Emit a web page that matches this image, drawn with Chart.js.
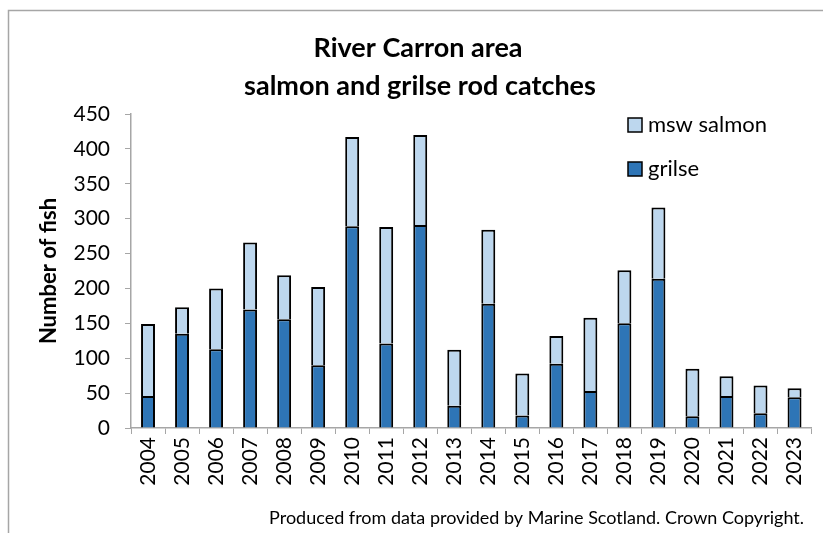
<!DOCTYPE html>
<html><head><meta charset="utf-8">
<script src="https://cdn.jsdelivr.net/npm/chart.js@4/dist/chart.umd.min.js"></script>
<style>html,body{margin:0;padding:0;background:#fff}#wrap{width:823px;height:533px}</style>
</head><body><div id="wrap"><canvas id="c" width="823" height="533"></canvas></div>
<script>
const years = ['2004','2005','2006','2007','2008','2009','2010','2011','2012','2013','2014','2015','2016','2017','2018','2019','2020','2021','2022','2023'];
const grilse = [46,135,113,170,156,90,289,121,291,32,178,18,92,53,150,214,17,46,21,44];
const mswSalmon = [103,38,87,96,63,112,128,167,129,80,106,60,40,105,76,102,68,28,40,13];
const yTickValues = [0,50,100,150,200,250,300,350,400,450];
const titleLines = ['River Carron area','salmon and grilse rod catches'];
const yAxisTitle = 'Number of fish';
const footerText = 'Produced from data provided by Marine Scotland. Crown Copyright.';
const seriesNames = ['grilse','msw salmon'];

const FONT = 'Lato, "Open Sans", "Liberation Sans", sans-serif';
const DARK = '#2E75B6', LIGHT = '#BDD7EE', AXIS = '#a6a6a6';

const decor = {
  id: 'decor',
  afterDraw(chart) {
    const ctx = chart.ctx;
    ctx.save();
    ctx.strokeStyle = AXIS; ctx.lineWidth = 1.5;
    ctx.beginPath(); ctx.moveTo(8.5, 533); ctx.lineTo(8.5, 10.5); ctx.lineTo(823, 10.5); ctx.stroke();
    ctx.fillStyle = '#000'; ctx.textAlign = 'center'; ctx.textBaseline = 'middle';
    ctx.font = 'bold 27px ' + FONT;
    ctx.fillText(titleLines[0], 418, 48);
    ctx.fillText(titleLines[1], 420, 86);
    ctx.font = '18px ' + FONT; ctx.textAlign = 'right';
    ctx.fillText(footerText, 804, 518);
    const items = [{t: seriesNames[1], c: LIGHT, y: 125}, {t: seriesNames[0], c: DARK, y: 169}];
    ctx.textAlign = 'left'; ctx.font = '22px ' + FONT;
    items.forEach(it => {
      ctx.fillStyle = it.c; ctx.fillRect(628, it.y - 7, 14, 14);
      ctx.strokeStyle = '#000'; ctx.lineWidth = 1.5; ctx.strokeRect(628, it.y - 7, 14, 14);
      ctx.fillStyle = '#000'; ctx.fillText(it.t, 648, it.y);
    });
    ctx.restore();
  }
};

new Chart(document.getElementById('c'), {
  type: 'bar',
  data: {
    labels: years,
    datasets: [
      {label: seriesNames[0], data: grilse, backgroundColor: DARK, borderColor: '#000', borderWidth: 2, categoryPercentage: 1, barPercentage: 0.41},
      {label: seriesNames[1], data: mswSalmon, backgroundColor: LIGHT, borderColor: '#000', borderWidth: 2, categoryPercentage: 1, barPercentage: 0.41}
    ]
  },
  options: {
    responsive: false, animation: false,
    layout: {padding: {left: 0, top: 114, right: 11, bottom: 0}},
    plugins: {legend: {display: false}, title: {display: false}, tooltip: {enabled: false}},
    scales: {
      x: {
        stacked: true,
        grid: {offset: true, drawOnChartArea: false, drawTicks: true, tickLength: 6, color: AXIS},
        border: {display: true, color: AXIS, width: 1.5},
        ticks: {color: '#000', font: {family: FONT, size: 21}, maxRotation: 90, minRotation: 90, padding: 3, autoSkip: false},
        afterFit(s) { s.height = 105; }
      },
      y: {
        stacked: true, min: 0, max: 450,
        afterBuildTicks(s) { s.ticks = yTickValues.map(v => ({value: v})); },
        grid: {drawOnChartArea: false, drawTicks: true, tickLength: 6, color: AXIS},
        border: {display: true, color: AXIS, width: 1.5},
        ticks: {color: '#000', font: {family: FONT, size: 21}, padding: 15},
        title: {display: true, text: yAxisTitle, color: '#000', font: {family: FONT, size: 22, weight: 'bold'}, padding: {top: 36, bottom: 0}},
        afterFit(s) { s.width = 131; }
      }
    }
  },
  plugins: [decor]
});
</script></body></html>
